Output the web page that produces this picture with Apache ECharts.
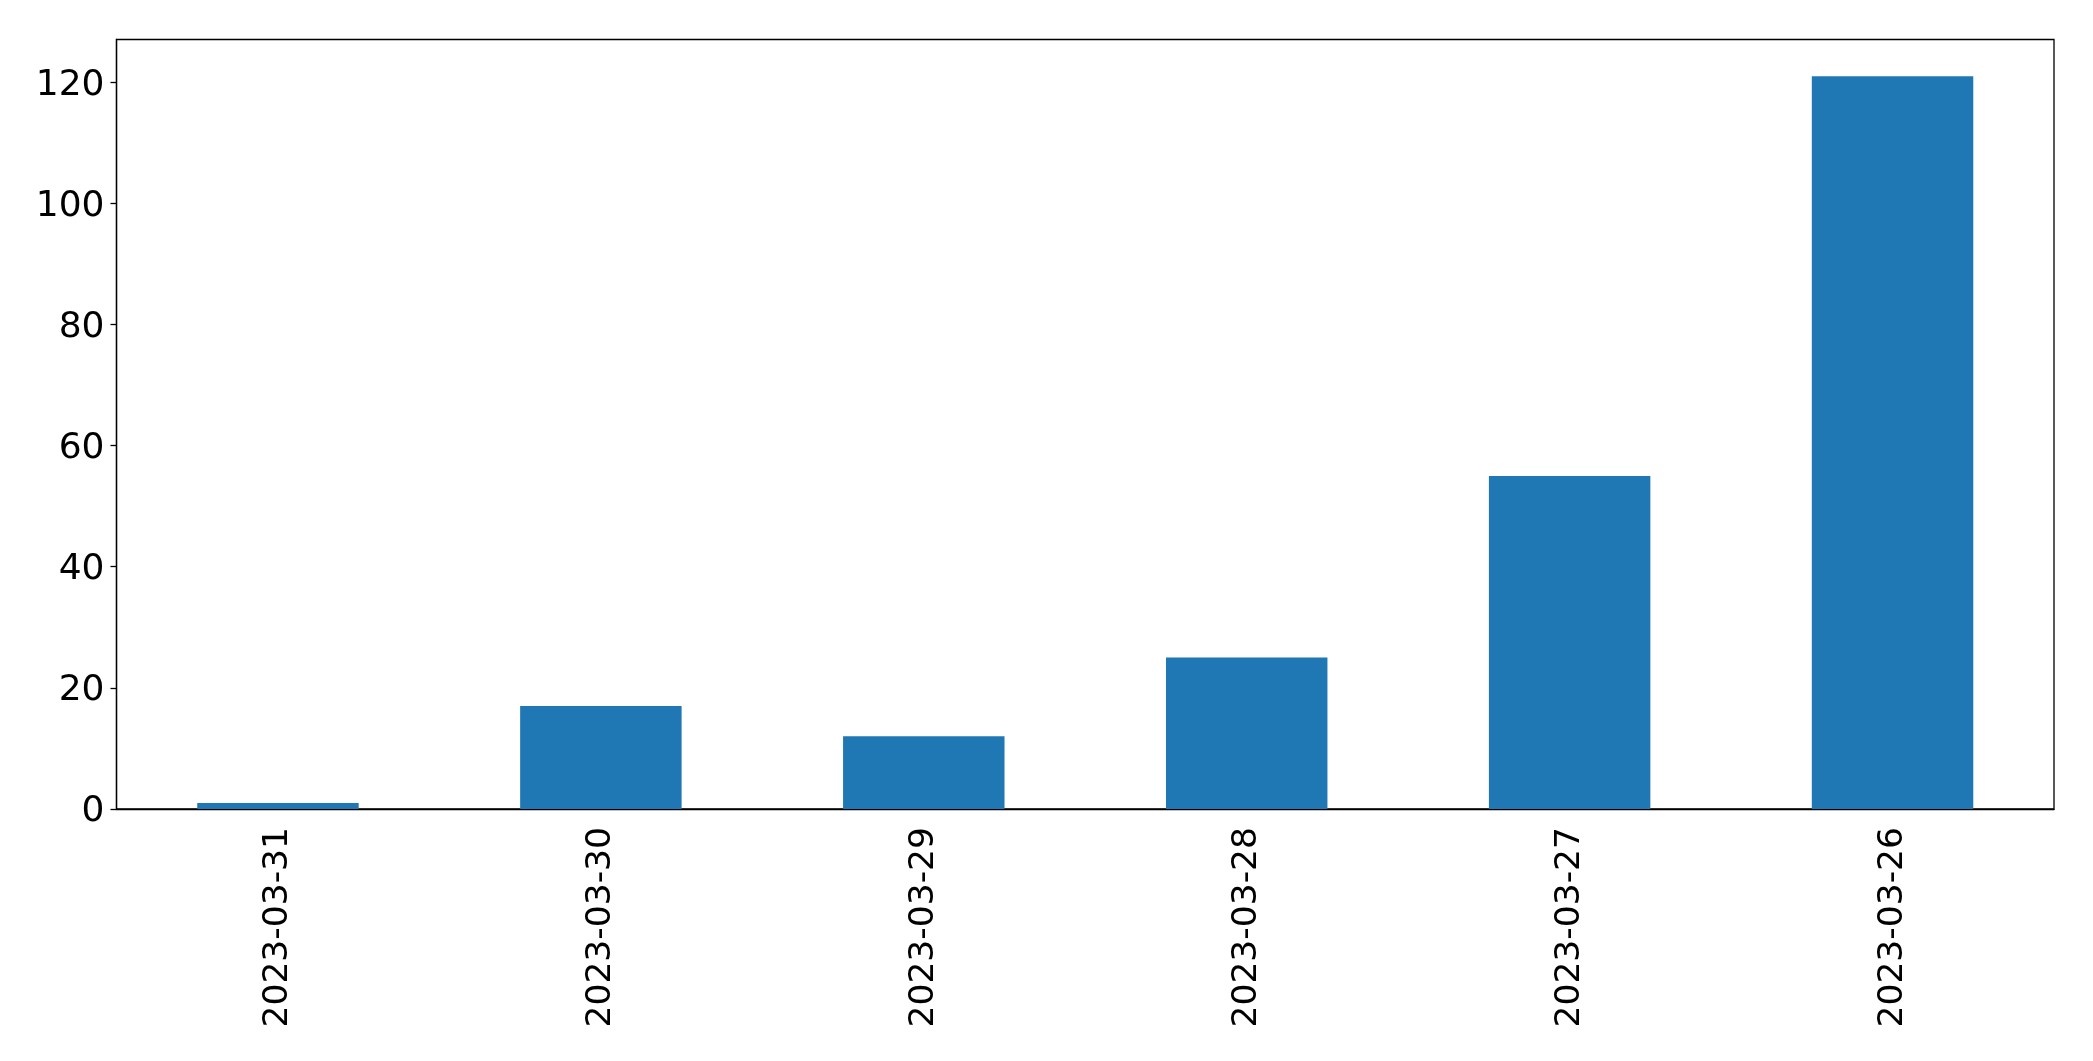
<!DOCTYPE html>
<html>
<head>
<meta charset="utf-8">
<script src="https://cdn.jsdelivr.net/npm/echarts@6/dist/echarts.min.js"></script>
<style>
  html, body { margin: 0; padding: 0; background: #fff; }
  #myChart { width: 2093px; height: 1061px; }
</style>
</head>
<body>
<div id="myChart"></div>
<script>
// 日期 / 数量
const dates = ['2023-03-31', '2023-03-30', '2023-03-29', '2023-03-28', '2023-03-27', '2023-03-26']
const counts = [1, 17, 12, 25, 55, 121]
const yTicks = [0, 20, 40, 60, 80, 100, 120]

const font = 'DejaVu Sans'

let option = {
  animation: false,
  backgroundColor: '#fff',
  grid: {
    left: 116.5,
    top: 39.5,
    right: 39,
    bottom: 252,
    show: true,
    borderColor: '#000',
    borderWidth: 1.3,
    backgroundColor: 'transparent'
  },
  xAxis: {
    type: 'category',
    data: dates,
    boundaryGap: true,
    axisLine: { lineStyle: { color: '#000', width: 1.3 } },
    axisTick: { alignWithLabel: true, length: 6, lineStyle: { color: '#000', width: 1.3 } },
    axisLabel: {
      rotate: 90,
      interval: 0,
      margin: 18,
      color: '#000',
      fontFamily: font,
      fontSize: 34.5
    },
    splitLine: { show: false }
  },
  yAxis: {
    type: 'value',
    min: 0,
    max: 127.05,
    interval: 20,
    axisLine: { show: true, lineStyle: { color: '#000', width: 1.3 } },
    axisTick: { show: true, length: 6, customValues: yTicks, lineStyle: { color: '#000', width: 1.3 } },
    axisLabel: {
      customValues: yTicks,
      margin: 12,
      formatter: '{v|{value}}',
      rich: {
        v: {
          padding: [6, 0, 0, 0],
          color: '#000',
          fontFamily: font,
          fontSize: 36
        }
      },
      color: '#000',
      fontFamily: font,
      fontSize: 36
    },
    splitLine: { show: false }
  },
  series: [{
    type: 'bar',
    data: counts,
    barWidth: '50%',
    itemStyle: { color: '#1f77b4' }
  }]
}

let myChart = echarts.init(document.getElementById('myChart'))
myChart.setOption(option)
</script>
</body>
</html>
